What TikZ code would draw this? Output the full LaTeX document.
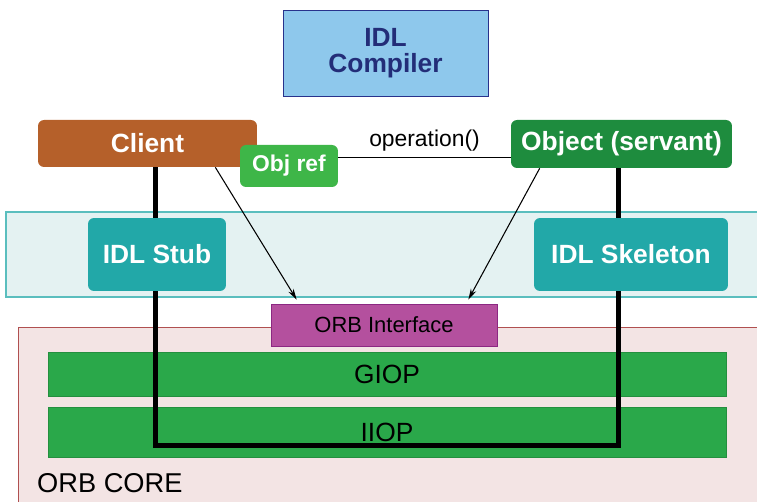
\documentclass[tikz,border=0pt]{standalone}
\usepackage{fontspec}
\setmainfont{Liberation Sans}
\usetikzlibrary{arrows.meta, positioning, calc}
\definecolor{compfill}{RGB}{142,200,236}
\definecolor{compline}{RGB}{40,50,140}
\definecolor{comptext}{RGB}{35,45,120}
\definecolor{clientcol}{RGB}{181,96,42}
\definecolor{refcol}{RGB}{62,182,72}
\definecolor{objcol}{RGB}{30,140,62}
\definecolor{bandfill}{RGB}{228,242,242}
\definecolor{bandline}{RGB}{90,190,190}
\definecolor{tealcol}{RGB}{34,168,168}
\definecolor{purpcol}{RGB}{180,80,158}
\definecolor{purpline}{RGB}{140,40,130}
\definecolor{corefill}{RGB}{243,228,228}
\definecolor{coreline}{RGB}{176,80,80}
\definecolor{layercol}{RGB}{42,168,74}

\tikzset{
  rbox/.style={rounded corners=0.12cm, text=white, font=\bfseries\fontsize{15}{15}\selectfont, inner sep=0pt},
  layer/.style={fill=layercol, draw=layercol!85!black, minimum width=13.56cm, font=\fontsize{15}{15}\selectfont, inner sep=0pt},
  wire/.style={line width=0.1cm},
  call/.style={-{Stealth[length=0.22cm,width=0.12cm]}, line width=0.6pt}
}

\begin{document}
\begin{tikzpicture}[x=0.02cm, y=-0.02cm]
        \useasboundingbox (0,0) rectangle (757,502);

        % layers
        \filldraw [fill=bandfill, draw=bandline, thick] (6,212) rectangle (770,297);
        \filldraw [fill=corefill, draw=coreline] (18,327) rectangle (770,515);
        \node[anchor=base west, font=\fontsize{15.5}{15}\selectfont] (core) at (31,493) {ORB CORE};

        \node[layer, minimum height=0.88cm] (giop) at (387,374) {GIOP};
        \node[layer, minimum height=1cm] (iiop) at (387,432) {IIOP};

        \node[draw=compline, fill=compfill, text=comptext, align=center, minimum width=4.1cm, minimum height=1.72cm,
              font=\bfseries\fontsize{15}{14.5}\selectfont] (compiler) at (385.5,53) {IDL\\Compiler};

        \node[rbox, fill=clientcol, minimum width=4.38cm, minimum height=0.94cm] (client) at (147.5,143.5) {Client};
        \node[rbox, fill=objcol, minimum width=4.42cm, minimum height=0.96cm] (object) at (621.5,144) {Object (servant)};

        % request path
        \coordinate (bottom) at (0,446);
        \draw[wire] ([xshift=0.15cm]client.south) -- ([xshift=0.15cm]client.south |- bottom)
              -| ([xshift=-0.07cm]object.south);

        \node[rbox, fill=tealcol, minimum width=2.76cm, minimum height=1.46cm] (stub) at (157,254.5) {IDL Stub};
        \node[rbox, fill=tealcol, minimum width=3.88cm, minimum height=1.46cm] (skeleton) at (631,254.5) {IDL Skeleton};

        \node[fill=purpcol, draw=purpline, minimum width=4.52cm, minimum height=0.84cm,
              font=\fontsize{12.5}{12.5}\selectfont] (orbif) at (384,325) {ORB Interface};

        \node[rbox, fill=refcol, minimum width=1.96cm, minimum height=0.84cm,
              font=\bfseries\fontsize{13}{13}\selectfont] (objref) at (289,166) {Obj ref};

        \draw ([yshift=0.18cm]objref.east) -- ([yshift=0.18cm]objref.east -| object.west)
              node[midway, above, font=\fontsize{13}{13}\selectfont] {operation()};

        \draw[call] ([xshift=-0.84cm]client.south east) -- ([xshift=0.52cm, yshift=0.08cm]orbif.north west);
        \draw[call] ([xshift=0.58cm]object.south west) -- ([xshift=-0.58cm, yshift=0.08cm]orbif.north east);
    \end{tikzpicture}
\end{document}
